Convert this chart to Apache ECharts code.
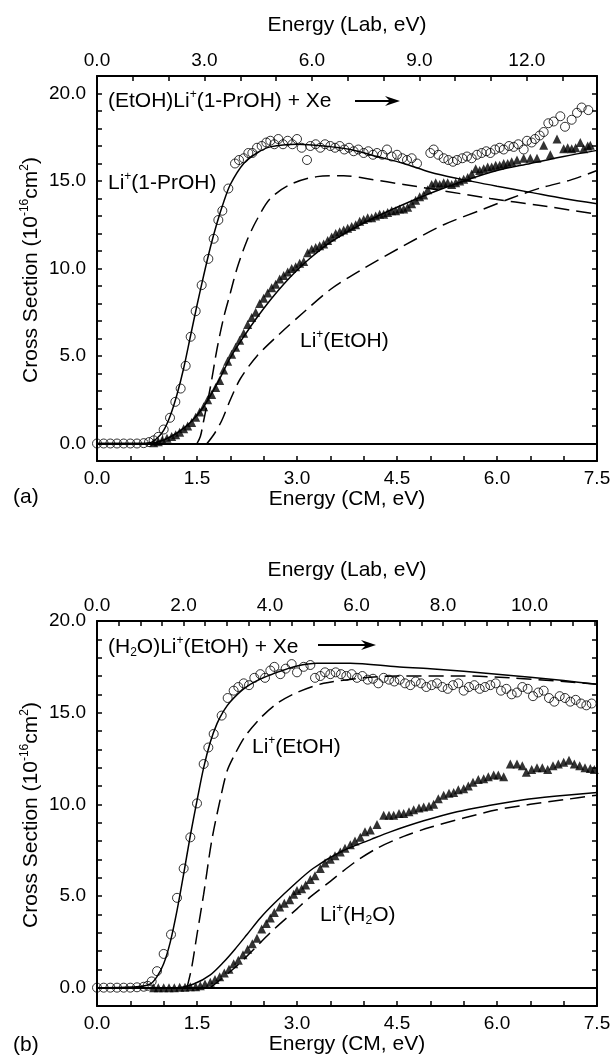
<!DOCTYPE html>
<html>
<head>
<meta charset="utf-8">
<script src="https://cdn.jsdelivr.net/npm/echarts@6/dist/echarts.min.js"></script>
<style>
  html, body { margin: 0; padding: 0; background: #fff; }
  #chart { width: 614px; height: 1057px; }
</style>
</head>
<body>
<div id="chart"></div>
<script>
// panel (a): (EtOH)Li+(1-PrOH) + Xe
const aPrOHPoints = [[0,0],[0.1,0],[0.2,0],[0.3,0],[0.4,0],[0.5,0],[0.6,0],[0.7,0.02],[0.78,0.08],[0.85,0.18],[0.92,0.38],[1.0,0.8],[1.095,1.47],[1.175,2.38],[1.255,3.14],[1.33,4.44],[1.405,6.1],[1.48,7.56],[1.57,9.05],[1.67,10.55],[1.75,11.7],[1.82,12.77],[1.88,13.3],[1.97,14.57],[2.07,16.0],[2.13,16.2],[2.2,16.3],[2.27,16.6],[2.33,16.6],[2.4,16.9],[2.47,17.0],[2.54,17.2],[2.6,17.3],[2.66,17.1],[2.72,17.4],[2.79,17.1],[2.86,17.3],[2.93,17.1],[3.0,17.4],[3.07,16.9],[3.15,16.2],[3.2,17.0],[3.28,17.1],[3.35,16.9],[3.42,17.1],[3.5,17.0],[3.57,16.9],[3.64,17.0],[3.71,16.8],[3.78,16.9],[3.85,16.7],[3.92,16.8],[4.0,16.6],[4.07,16.7],[4.14,16.5],[4.2,16.6],[4.28,16.5],[4.35,16.8],[4.42,16.4],[4.5,16.5],[4.58,16.3],[4.65,16.2],[4.72,16.3],[4.8,16.0],[5.0,16.6],[5.05,16.8],[5.12,16.5],[5.2,16.3],[5.27,16.2],[5.34,16.1],[5.4,16.2],[5.48,16.3],[5.55,16.4],[5.62,16.3],[5.7,16.5],[5.77,16.6],[5.84,16.7],[5.9,16.6],[5.97,16.8],[6.04,16.9],[6.1,16.8],[6.18,17.0],[6.25,16.95],[6.32,17.1],[6.4,16.8],[6.45,17.3],[6.52,17.2],[6.57,17.4],[6.64,17.6],[6.7,17.8],[6.77,18.3],[6.85,18.4],[6.95,18.7],[7.02,18.1],[7.12,18.5],[7.2,18.9],[7.27,19.2],[7.37,19.05]]
const aEtOHPoints = [[0.85,0.05],[0.92,0.1],[0.98,0.2],[1.05,0.3],[1.12,0.4],[1.18,0.5],[1.24,0.65],[1.3,0.85],[1.36,1.0],[1.42,1.2],[1.48,1.5],[1.54,1.8],[1.6,2.1],[1.66,2.5],[1.72,2.8],[1.78,3.2],[1.84,3.6],[1.9,4.2],[1.96,4.7],[2.02,5.1],[2.08,5.5],[2.14,5.9],[2.2,6.3],[2.26,6.8],[2.32,7.2],[2.38,7.5],[2.44,8.0],[2.5,8.3],[2.56,8.6],[2.62,8.9],[2.68,9.1],[2.74,9.4],[2.8,9.6],[2.86,9.8],[2.92,10.0],[2.98,10.1],[3.04,10.3],[3.1,10.4],[3.16,10.9],[3.22,11.1],[3.28,11.2],[3.34,11.3],[3.4,11.4],[3.46,11.6],[3.52,11.8],[3.58,12.0],[3.64,12.1],[3.7,12.2],[3.76,12.3],[3.82,12.4],[3.88,12.5],[3.94,12.7],[4.0,12.8],[4.06,12.9],[4.12,12.9],[4.18,13.0],[4.24,13.1],[4.3,13.1],[4.36,13.2],[4.42,13.3],[4.48,13.3],[4.54,13.4],[4.6,13.4],[4.66,13.5],[4.72,13.7],[4.78,13.9],[4.84,14.1],[4.9,14.2],[4.96,14.5],[5.02,14.8],[5.08,14.9],[5.14,14.8],[5.2,14.9],[5.26,14.9],[5.32,14.8],[5.38,14.9],[5.44,15.0],[5.5,15.1],[5.56,15.2],[5.62,15.4],[5.68,15.7],[5.74,15.6],[5.8,15.7],[5.86,15.8],[5.92,15.8],[5.98,15.9],[6.04,15.9],[6.1,16.0],[6.16,16.0],[6.22,16.1],[6.3,16.2],[6.4,16.3],[6.5,16.3],[6.6,16.3],[6.7,17.05],[6.8,16.5],[6.9,17.4],[7.0,16.85],[7.06,16.9],[7.12,16.85],[7.18,16.9],[7.25,17.2],[7.3,16.85],[7.36,17.0],[7.4,17.05]]
const aPrOHFit = [[0,0],[0.6,0],[0.8,0.05],[0.9,0.3],[1.0,0.75],[1.1,1.6],[1.2,2.8],[1.3,4.3],[1.4,6.1],[1.5,7.9],[1.6,9.6],[1.7,11.2],[1.8,12.6],[1.9,13.8],[2.0,14.8],[2.2,16.0],[2.4,16.6],[2.6,16.95],[3.0,17.1],[3.4,17.0],[3.8,16.8],[4.2,16.4],[4.6,16.0],[5.0,15.5],[5.4,15.15],[6.0,14.7],[6.5,14.35],[7.0,14.0],[7.5,13.7]]
const aEtOHFit = [[0,0],[0.8,0],[1.0,0.2],[1.2,0.6],[1.4,1.2],[1.6,2.1],[1.8,3.4],[2.0,4.9],[2.2,6.1],[2.4,7.2],[2.6,8.2],[2.8,9.1],[3.0,9.9],[3.2,10.6],[3.5,11.5],[4.0,12.6],[4.5,13.5],[5.0,14.3],[5.5,15.0],[6.0,15.6],[6.5,16.0],[7.0,16.4],[7.5,16.75]]
const aPrOHModel = [[1.5,0],[1.55,0.4],[1.6,1.3],[1.7,3.2],[1.8,5.4],[1.9,7.2],[2.0,8.6],[2.1,10.0],[2.25,11.6],[2.4,12.8],[2.6,14.0],[2.9,14.8],[3.3,15.25],[3.7,15.3],[4.1,15.1],[4.6,14.8],[5.1,14.5],[5.9,14.0],[6.65,13.6],[7.5,13.1]]
const aEtOHModel = [[1.65,0],[1.75,0.5],[1.87,1.3],[2.0,2.5],[2.15,3.7],[2.4,5.0],[2.75,6.3],[3.1,7.5],[3.5,8.8],[4.0,10.0],[4.6,11.3],[5.2,12.5],[5.8,13.4],[6.2,14.0],[6.65,14.6],[7.1,15.05],[7.5,15.6]]

// panel (b): (H2O)Li+(EtOH) + Xe
const bEtOHPoints = [[0,0],[0.1,0],[0.2,0],[0.3,0],[0.4,0],[0.5,0],[0.6,0.02],[0.7,0.05],[0.76,0.1],[0.82,0.34],[0.9,0.9],[1.0,1.84],[1.11,2.9],[1.2,4.9],[1.3,6.5],[1.4,8.2],[1.5,10.05],[1.6,12.2],[1.67,13.1],[1.75,13.84],[1.87,14.84],[1.96,15.8],[2.05,16.2],[2.12,16.4],[2.2,16.6],[2.28,16.5],[2.36,16.9],[2.45,17.1],[2.52,16.9],[2.6,17.3],[2.66,17.5],[2.75,17.1],[2.83,17.4],[2.92,17.65],[3.0,17.2],[3.1,17.5],[3.2,17.6],[3.27,16.9],[3.35,17.0],[3.42,17.2],[3.5,17.1],[3.58,17.2],[3.66,17.1],[3.74,17.0],[3.82,17.1],[3.9,16.9],[3.98,17.0],[4.06,16.8],[4.14,16.85],[4.22,16.6],[4.3,16.9],[4.38,16.8],[4.46,16.7],[4.54,16.8],[4.62,16.6],[4.7,16.5],[4.78,16.7],[4.86,16.6],[4.94,16.4],[5.02,16.5],[5.1,16.6],[5.18,16.4],[5.26,16.3],[5.34,16.5],[5.42,16.6],[5.5,16.2],[5.58,16.4],[5.66,16.5],[5.74,16.3],[5.82,16.4],[5.9,16.5],[5.98,16.6],[6.06,16.2],[6.14,16.3],[6.22,16.0],[6.3,16.1],[6.38,16.4],[6.46,16.3],[6.54,15.9],[6.62,16.1],[6.7,16.2],[6.78,15.8],[6.86,15.6],[6.94,15.9],[7.02,15.8],[7.1,15.6],[7.18,15.7],[7.26,15.5],[7.34,15.4],[7.42,15.5]]
const bH2OPoints = [[0.85,0],[0.92,0],[1.0,0],[1.08,0],[1.16,0],[1.24,0.02],[1.32,0.02],[1.4,0.05],[1.48,0.05],[1.55,0.1],[1.62,0.2],[1.7,0.3],[1.77,0.45],[1.84,0.6],[1.91,0.8],[1.98,1.0],[2.05,1.3],[2.12,1.5],[2.19,1.8],[2.26,2.1],[2.33,2.4],[2.4,2.7],[2.47,3.2],[2.54,3.5],[2.6,3.8],[2.66,4.1],[2.74,4.4],[2.81,4.6],[2.89,4.8],[2.95,5.1],[3.0,5.3],[3.07,5.4],[3.13,5.6],[3.2,5.9],[3.27,6.1],[3.35,6.5],[3.42,6.8],[3.5,7.0],[3.57,7.2],[3.65,7.4],[3.72,7.6],[3.8,7.8],[3.87,8.0],[3.95,8.2],[4.02,8.5],[4.1,8.6],[4.2,8.9],[4.3,9.4],[4.38,9.4],[4.45,9.4],[4.53,9.5],[4.6,9.5],[4.68,9.6],[4.75,9.7],[4.83,9.8],[4.9,9.85],[4.98,9.9],[5.05,10.0],[5.12,10.3],[5.2,10.5],[5.28,10.6],[5.35,10.65],[5.42,10.8],[5.5,10.85],[5.57,11.0],[5.64,11.2],[5.72,11.35],[5.8,11.4],[5.87,11.5],[5.95,11.6],[6.02,11.6],[6.1,11.5],[6.2,12.2],[6.3,12.2],[6.38,12.1],[6.44,11.75],[6.52,11.9],[6.6,12.0],[6.68,12.0],[6.76,11.9],[6.84,12.1],[6.92,12.2],[7.0,12.3],[7.08,12.4],[7.16,12.2],[7.24,12.1],[7.32,12.0],[7.4,11.95],[7.46,11.9]]
const bEtOHFit = [[0,0],[0.6,0.05],[0.8,0.2],[0.9,0.6],[1.0,1.3],[1.1,2.5],[1.2,4.2],[1.3,6.2],[1.4,8.3],[1.5,10.2],[1.6,12.0],[1.7,13.4],[1.8,14.4],[1.9,15.1],[2.0,15.6],[2.2,16.3],[2.4,16.75],[2.7,17.2],[3.0,17.55],[3.3,17.7],[3.8,17.7],[4.5,17.5],[5.0,17.4],[6.0,17.1],[7.0,16.75],[7.5,16.55]]
const bH2OFit = [[0,0],[1.2,0],[1.45,0.2],[1.7,0.7],[1.9,1.4],[2.07,2.1],[2.25,2.9],[2.45,3.8],[2.66,4.6],[2.95,5.6],[3.24,6.5],[3.65,7.4],[4.12,8.1],[4.4,8.5],[4.9,9.1],[5.4,9.6],[5.9,9.95],[6.4,10.25],[6.9,10.45],[7.5,10.65]]
const bEtOHModel = [[1.35,0],[1.42,1.1],[1.5,2.9],[1.6,5.1],[1.72,8.0],[1.85,10.3],[1.95,11.8],[2.05,12.6],[2.22,13.7],[2.45,14.7],[2.7,15.5],[3.0,16.1],[3.4,16.6],[4.0,16.9],[4.5,17.0],[5.5,17.0],[6.2,16.9],[7.0,16.7],[7.5,16.55]]
const bH2OModel = [[1.7,0],[1.77,0.2],[2.07,1.1],[2.3,1.9],[2.6,3.0],[3.0,4.3],[3.2,4.95],[3.5,5.8],[3.85,6.8],[4.2,7.6],[4.6,8.25],[5.0,8.75],[5.5,9.25],[6.0,9.7],[6.5,10.0],[7.0,10.25],[7.5,10.5]]

// axis ranges / tick labels
const cmMax = 7.5
const labMaxA = 13.96
const labMaxB = 11.56
const yRangeA = [-1, 21]
const yRangeB = [-1, 20]

const FONT = '"Liberation Sans", Arial, sans-serif'
const BLACK = '#000'

const chart = echarts.init(document.getElementById('chart'))

// label only every `step`, ticks every axis interval
const every = (step) => (v) => (Math.abs(v / step - Math.round(v / step)) < 1e-6 ? v.toFixed(1) : '')

const frameAxis = (extra) => ({
  type: 'value',
  axisLine: { show: true, onZero: false, lineStyle: { color: BLACK, width: 2 } },
  axisTick: { show: true, inside: true, length: 5, lineStyle: { color: BLACK, width: 1.5 } },
  splitLine: { show: false },
  axisLabel: { color: BLACK, fontSize: 19, fontFamily: FONT, margin: 8, showMinLabel: true, showMaxLabel: true },
  nameTextStyle: { color: BLACK, fontSize: 21, fontFamily: FONT },
  ...extra,
})

const xAxes = (gridIndex, labMax, labStep, labMinor) => [
  frameAxis({
    gridIndex, position: 'bottom', min: 0, max: cmMax, interval: 0.5,
    axisLabel: { ...frameAxis().axisLabel, formatter: every(1.5) },
    name: 'Energy (CM, eV)', nameLocation: 'middle', nameGap: 27,
  }),
  frameAxis({
    gridIndex, position: 'top', min: 0, max: labMax, interval: labMinor,
    axisLabel: { ...frameAxis().axisLabel, margin: 6, formatter: every(labStep) },
    name: 'Energy (Lab, eV)', nameLocation: 'middle', nameGap: 40,
  }),
]

const yAxes = (gridIndex, range) => [
  frameAxis({
    gridIndex, position: 'left', min: range[0], max: range[1], interval: 1,
    axisLabel: { ...frameAxis().axisLabel, margin: 11, formatter: every(5) },
  }),
  frameAxis({
    gridIndex, position: 'right', min: range[0], max: range[1], interval: 1,
    axisLabel: { show: false },
  }),
]

const circles = (data, xi, yi) => ({
  type: 'scatter', data, xAxisIndex: xi, yAxisIndex: yi, symbol: 'circle', symbolSize: 9,
  itemStyle: { color: 'rgba(255,255,255,0)', borderColor: BLACK, borderWidth: 1 }, z: 4, silent: true,
})
const triangles = (data, xi, yi) => ({
  type: 'scatter', data, xAxisIndex: xi, yAxisIndex: yi, symbol: 'triangle', symbolSize: 9,
  itemStyle: { color: BLACK }, z: 4, silent: true,
})
const curve = (data, xi, yi, dashed) => ({
  type: 'line', data, xAxisIndex: xi, yAxisIndex: yi, showSymbol: false, smooth: 0.3, silent: true,
  lineStyle: { color: BLACK, width: 1.5, type: dashed ? [15, 7] : 'solid' }, z: 3,
})
const baseline = (xi, yi) => ({
  type: 'line', data: [], xAxisIndex: xi, yAxisIndex: yi, silent: true,
  markLine: {
    symbol: 'none', silent: true, label: { show: false },
    lineStyle: { color: BLACK, width: 2, type: 'solid' },
    data: [{ yAxis: 0 }],
  },
})

const rich = {
  sup: { fontSize: 12, fontFamily: FONT, lineHeight: 12, verticalAlign: 'top' },
  sub: { fontSize: 12, fontFamily: FONT, lineHeight: 12, verticalAlign: 'bottom' },
}
const note = (text, x, y) => ({
  type: 'text', x, y, silent: true,
  style: { text, font: `21px ${FONT}`, fill: BLACK, verticalAlign: 'middle', lineHeight: 24, rich },
})
const arrow = (x1, x2, y) => ({
  type: 'group', silent: true,
  children: [
    { type: 'line', shape: { x1, y1: y, x2: x2 - 6, y2: y }, style: { stroke: BLACK, lineWidth: 2 } },
    { type: 'polygon', shape: { points: [[x2, y], [x2 - 15, y - 5], [x2 - 10, y], [x2 - 15, y + 5]] }, style: { fill: BLACK } },
  ],
})
const yTitle = (cy) => ({
  type: 'text', x: 31, y: cy, rotation: Math.PI / 2, silent: true,
  style: {
    text: 'Cross Section (10{sup|-16}cm{sup|2})', font: `21px ${FONT}`, fill: BLACK,
    align: 'center', verticalAlign: 'middle', lineHeight: 24, rich,
  },
})

const option = {
  animation: false,
  backgroundColor: '#fff',
  grid: [
    { left: 97, top: 76, width: 500, height: 385 },
    { left: 97, top: 621, width: 500, height: 385 },
  ],
  xAxis: [...xAxes(0, labMaxA, 3, 1), ...xAxes(1, labMaxB, 2, 0.5)],
  yAxis: [...yAxes(0, yRangeA), ...yAxes(1, yRangeB)],
  series: [
    baseline(0, 0),
    curve(aPrOHFit, 0, 0, false),
    curve(aEtOHFit, 0, 0, false),
    curve(aPrOHModel, 0, 0, true),
    curve(aEtOHModel, 0, 0, true),
    circles(aPrOHPoints, 0, 0),
    triangles(aEtOHPoints, 0, 0),

    baseline(2, 2),
    curve(bEtOHFit, 2, 2, false),
    curve(bH2OFit, 2, 2, false),
    curve(bEtOHModel, 2, 2, true),
    curve(bH2OModel, 2, 2, true),
    circles(bEtOHPoints, 2, 2),
    triangles(bH2OPoints, 2, 2),
  ],
  graphic: [
    note('(EtOH)Li{sup|+}(1-PrOH) + Xe', 108, 101),
    arrow(355, 400, 101),
    note('Li{sup|+}(1-PrOH)', 108, 183),
    note('Li{sup|+}(EtOH)', 300, 341),
    note('(a)', 13, 497),
    yTitle(270),

    note('(H{sub|2}O)Li{sup|+}(EtOH) + Xe', 108, 647),
    arrow(318, 376, 645),
    note('Li{sup|+}(EtOH)', 252, 747),
    note('Li{sup|+}(H{sub|2}O)', 320, 915),
    note('(b)', 13, 1045),
    yTitle(815),
  ],
}

option && chart.setOption(option)
</script>
</body>
</html>
